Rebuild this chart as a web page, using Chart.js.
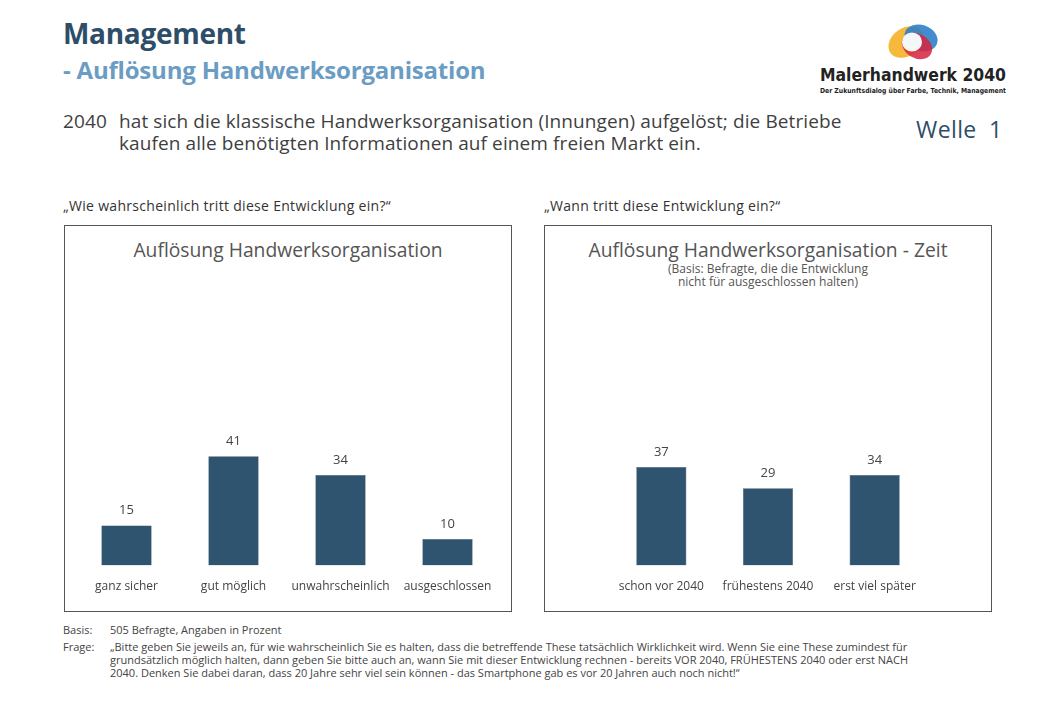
<!DOCTYPE html>
<html lang="de">
<head>
<meta charset="utf-8">
<title>Auflösung Handwerksorganisation</title>
<script src="https://cdn.jsdelivr.net/npm/chart.js@4/dist/chart.umd.min.js"></script>
<style>
  body { margin: 0; background: #fff; font-family: "Open Sans", Roboto, sans-serif; color: #444; }
  #page { position: relative; width: 1040px; height: 720px; overflow: hidden; }
  .abs { position: absolute; white-space: nowrap; }
  h1 { position: absolute; left: 63px; top: 14px; margin: 0; font-size: 28px; font-weight: 700; color: #2d4d68; letter-spacing: -0.3px; }
  h2 { position: absolute; left: 63px; top: 53px; margin: 0; font-size: 24px; font-weight: 700; color: #6b9cc4; letter-spacing: -0.2px; }
  .stmt { left: 63px; top: 110px; font-size: 19px; line-height: 22px; color: #3f3f3f; letter-spacing: 0.1px; }
  .stmt span { display: inline-block; width: 56px; }
  .welle { left: 916px; top: 113px; font-size: 23px; color: #2d4d68; word-spacing: 6px; letter-spacing: 0.4px; }
  .q { top: 196px; font-size: 14px; color: #333; letter-spacing: 0.3px; }
  .box { position: absolute; top: 225px; width: 448px; height: 387px; border: 1px solid #555; box-sizing: border-box; }
  .ctitle { position: absolute; left: 0; width: 100%; text-align: center; top: 236px; font-size: 19.3px; color: #555; }
  .csub { position: absolute; left: 0; width: 100%; text-align: center; top: 262px; font-size: 12px; line-height: 13px; color: #555; }
  .foot { font-size: 11px; line-height: 13px; color: #444; }
  .logo { left: 808px; top: 14px; width: 208px; height: 92px; }
  canvas { position: absolute; }
</style>
</head>
<body>
<div id="page">
  <h1>Management</h1>
  <h2>- Auflösung Handwerksorganisation</h2>

  <div class="abs logo">
    <svg width="208" height="92" viewBox="0 0 208 92">
      <ellipse cx="98" cy="28" rx="19" ry="14" fill="#f6b93b" transform="rotate(-35 98 28)"/>
      <ellipse cx="113" cy="24" rx="17" ry="13" fill="#2f80c8" opacity="0.9" transform="rotate(20 113 24)"/>
      <ellipse cx="109" cy="32" rx="16" ry="12" fill="#d7233c" opacity="0.85" transform="rotate(30 109 32)"/>
      <ellipse cx="104" cy="28" rx="10" ry="9.5" fill="#f4f6f8"/>
      <text x="12" y="67" textLength="186" lengthAdjust="spacingAndGlyphs" font-family="'DejaVu Sans', sans-serif" font-weight="700" font-size="18" fill="#222">Malerhandwerk 2040</text>
      <text x="12" y="79" textLength="186" lengthAdjust="spacingAndGlyphs" font-family="'DejaVu Sans', sans-serif" font-weight="700" font-size="7" fill="#222">Der Zukunftsdialog über Farbe, Technik, Management</text>
    </svg>
  </div>

  <div class="abs stmt"><span>2040</span>hat sich die klassische Handwerksorganisation (Innungen) aufgelöst; die Betriebe<br><span></span>kaufen alle benötigten Informationen auf einem freien Markt ein.</div>
  <div class="abs welle">Welle 1</div>

  <div class="abs q" style="left:63px">„Wie wahrscheinlich tritt diese Entwicklung ein?“</div>
  <div class="abs q" style="left:544px">„Wann tritt diese Entwicklung ein?“</div>

  <div class="box" style="left:64px"></div>
  <div class="box" style="left:544px"></div>
  <div class="abs ctitle" style="left:64px;width:448px">Auflösung Handwerksorganisation</div>
  <div class="abs ctitle" style="left:544px;width:448px">Auflösung Handwerksorganisation - Zeit</div>
  <div class="abs csub" style="left:544px;width:448px">(Basis: Befragte, die die Entwicklung<br>nicht für ausgeschlossen halten)</div>

  <canvas id="chartWahrscheinlich" style="left:73px;top:280px;width:428px;height:330px"></canvas>
  <canvas id="chartZeit" style="left:608px;top:280px;width:320px;height:330px"></canvas>

  <div class="abs foot" style="left:63px;top:623px">Basis:</div>
  <div class="abs foot" style="left:110px;top:623px">505 Befragte, Angaben in Prozent</div>
  <div class="abs foot" style="left:63px;top:640px">Frage:</div>
  <div class="abs foot" style="left:110px;top:640px">„Bitte geben Sie jeweils an, für wie wahrscheinlich Sie es halten, dass die betreffende These tatsächlich Wirklichkeit wird. Wenn Sie eine These zumindest für<br>grundsätzlich möglich halten, dann geben Sie bitte auch an, wann Sie mit dieser Entwicklung rechnen - bereits VOR 2040, FRÜHESTENS 2040 oder erst NACH<br>2040. Denken Sie dabei daran, dass 20 Jahre sehr viel sein können - das Smartphone gab es vor 20 Jahren auch noch nicht!“</div>
</div>

<script>
// Daten
const wahrscheinlichLabels = ['ganz sicher', 'gut möglich', 'unwahrscheinlich', 'ausgeschlossen'];
const wahrscheinlichWerte = [15, 41, 34, 10];
const zeitLabels = ['schon vor 2040', 'frühestens 2040', 'erst viel später'];
const zeitWerte = [37, 29, 34];

const barColor = '#2e5470';

// Werte über den Balken
const valueLabels = {
  id: 'valueLabels',
  afterDatasetsDraw(chart) {
    const ctx = chart.ctx;
    ctx.save();
    ctx.font = '13px "Open Sans", Roboto, sans-serif';
    ctx.fillStyle = '#444';
    ctx.textAlign = 'center';
    ctx.textBaseline = 'middle';
    chart.getDatasetMeta(0).data.forEach((bar, i) => {
      ctx.fillText(chart.data.datasets[0].data[i], bar.x, bar.y - 15);
    });
    ctx.restore();
  }
};

function makeChart(id, labels, values) {
  const ctx = document.getElementById(id).getContext('2d');
  return new Chart(ctx, {
    type: 'bar',
    data: {
      labels: labels,
      datasets: [{
        data: values,
        backgroundColor: barColor,
        borderColor: '#3a4a58',
        borderWidth: 0.5,
        barPercentage: 1,
        categoryPercentage: 0.47
      }]
    },
    options: {
      responsive: false,
      animation: false,
      layout: { padding: { top: 19, bottom: 10, left: 0, right: 0 } },
      scales: {
        y: { display: false, min: 0, max: 100 },
        x: {
          grid: { display: false },
          border: { display: false },
          ticks: { color: '#444', padding: 6, font: { size: 12, family: '"Open Sans", Roboto, sans-serif' } }
        }
      },
      plugins: {
        legend: { display: false },
        tooltip: { enabled: false }
      }
    },
    plugins: [valueLabels]
  });
}

makeChart('chartWahrscheinlich', wahrscheinlichLabels, wahrscheinlichWerte);
makeChart('chartZeit', zeitLabels, zeitWerte);
</script>
</body>
</html>
